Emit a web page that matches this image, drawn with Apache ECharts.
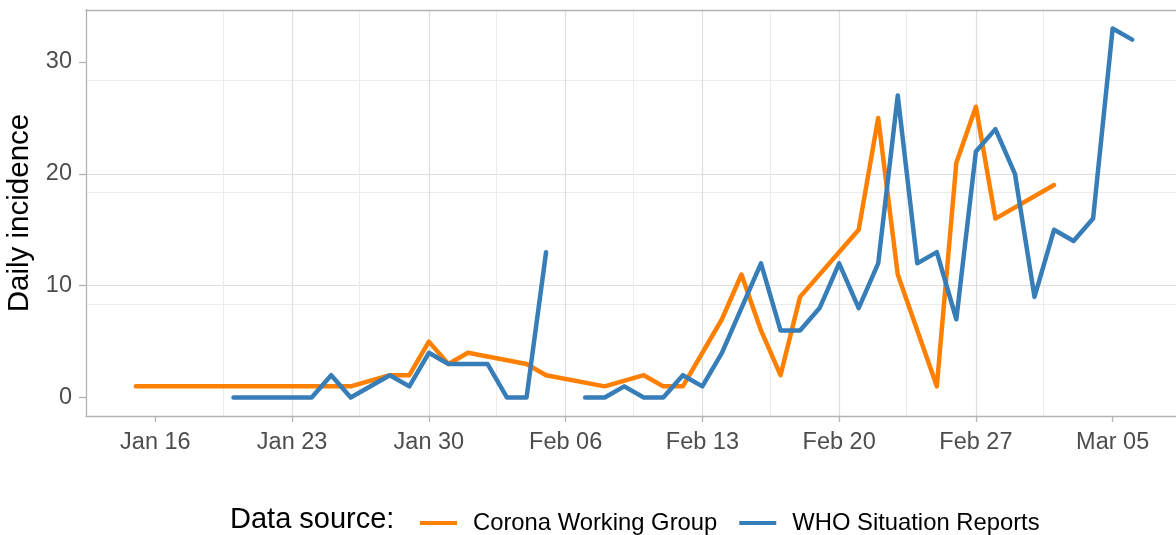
<!DOCTYPE html>
<html>
<head>
<meta charset="utf-8">
<script src="https://cdn.jsdelivr.net/npm/echarts@6/dist/echarts.min.js"></script>
<style>
  html, body { margin: 0; padding: 0; background: #fff; }
  #chart { width: 1176px; height: 535px; }
</style>
</head>
<body>
<div id="chart"></div>
<script>
// 数据：日期（2020年）和每日新增
var coronaDates = ['01-15', '01-26', '01-28', '01-29', '01-30', '01-31', '02-01', '02-04', '02-05',
  '02-08', '02-10', '02-11', '02-12', '02-14', '02-15', '02-16', '02-17', '02-18', '02-21',
  '02-22', '02-23', '02-25', '02-26', '02-27', '02-28', '03-02'];
var coronaValues = [1, 1, 2, 2, 5, 3, 4, 3, 2,
  1, 2, 1, 1, 7, 11, 6, 2, 9, 15,
  25, 11, 1, 21, 26, 16, 19];

var whoDates = ['01-20', '01-21', '01-22', '01-23', '01-24', '01-25', '01-26', '01-28', '01-29',
  '01-30', '01-31', '02-01', '02-02', '02-03', '02-04', '02-05', '02-06', '02-07', '02-08',
  '02-09', '02-10', '02-11', '02-12', '02-13', '02-14', '02-16', '02-17', '02-18', '02-19',
  '02-20', '02-21', '02-22', '02-23', '02-24', '02-25', '02-26', '02-27', '02-28', '02-29',
  '03-01', '03-02', '03-03', '03-04', '03-05', '03-06'];
var whoValues = [0, 0, 0, 0, 0, 2, 0, 2, 1,
  4, 3, 3, 3, 0, 0, 13, null, 0, 0,
  1, 0, 0, 2, 1, 4, 12, 6, 6, 8,
  12, 8, 12, 27, 12, 13, 7, 22, 24, 20,
  9, 15, 14, 16, 33, 32];

var xTickDates = ['01-16', '01-23', '01-30', '02-06', '02-13', '02-20', '02-27', '03-05'];
var xTickLabels = ['Jan 16', 'Jan 23', 'Jan 30', 'Feb 06', 'Feb 13', 'Feb 20', 'Feb 27', 'Mar 05'];
var yTicks = [0, 10, 20, 30];

// 以 1月16日 为第 0 天
var DAY = 86400000;
var base = Date.UTC(2020, 0, 16);
function dayNo(s) {
  var p = s.split('-');
  return Math.round((Date.UTC(2020, +p[0] - 1, +p[1]) - base) / DAY);
}
function pairs(dates, values) {
  return dates.map(function (d, i) { return [dayNo(d), values[i] === null ? '-' : values[i]]; });
}
var xTicks = xTickDates.map(dayNo);

var font = 'Liberation Sans, Arial, sans-serif';
var xMin = -3.55, xMax = 52.55, yMin = -1.65, yMax = 34.65;
var border = '#b3b3b3';

var chart = echarts.init(document.getElementById('chart'));
chart.setOption({
  animation: false,
  textStyle: { fontFamily: font },
  grid: { left: 86, top: 10, width: 1096, height: 406, show: false, containLabel: false, outerBoundsMode: 'none' },
  graphic: [{
    type: 'text', left: 230, top: 505,
    style: { text: 'Data source:', fontSize: 29, fill: '#000', fontFamily: font }
  }],
  legend: {
    left: 415, top: 506,
    icon: 'rect', itemWidth: 37, itemHeight: 4, itemGap: 22,
    textStyle: { fontSize: 23.8, color: '#000', fontFamily: font, padding: [0, 0, 0, 11] },
    data: ['Corona Working Group', 'WHO Situation Reports']
  },
  xAxis: [{
    type: 'value', min: xMin, max: xMax, interval: 7, z: 3,
    axisLine: { show: true, onZero: false, lineStyle: { color: border, width: 1.3 } },
    axisTick: { show: true, length: 6, customValues: xTicks, lineStyle: { color: border, width: 1.3 } },
    axisLabel: {
      customValues: xTicks, margin: 15, fontSize: 23.5, color: '#4d4d4d', fontFamily: font,
      formatter: function (v) { var i = xTicks.indexOf(Math.round(v)); return i >= 0 ? xTickLabels[i] : ''; }
    },
    splitLine: { show: true, showMinLine: false, showMaxLine: false, lineStyle: { color: '#dedede', width: 1.2 } }
  }, {
    // 次网格线（偏移 3.5 天）
    type: 'value', position: 'top', min: xMin - 3.45, max: xMax - 3.45, interval: 7, z: 3,
    axisLine: { show: true, onZero: false, lineStyle: { color: border, width: 1.3 } },
    axisTick: { show: false }, axisLabel: { show: false },
    splitLine: { show: true, showMinLine: false, showMaxLine: false, lineStyle: { color: '#ececec', width: 1 } }
  }],
  yAxis: [{
    type: 'value', min: yMin, max: yMax, interval: 10, z: 3,
    name: 'Daily incidence', nameLocation: 'middle', nameGap: 45,
    nameTextStyle: { fontSize: 29.5, color: '#000', fontFamily: font },
    axisLine: { show: true, onZero: false, lineStyle: { color: border, width: 1.3 } },
    axisTick: { show: true, length: 7, customValues: yTicks, lineStyle: { color: border, width: 1.3 } },
    axisLabel: { customValues: yTicks, margin: 14, fontSize: 23.5, color: '#4d4d4d', fontFamily: font },
    splitLine: { show: true, showMinLine: false, showMaxLine: false, lineStyle: { color: '#dedede', width: 1.2 } }
  }, {
    type: 'value', min: yMin - 5, max: yMax - 5, interval: 10,
    axisLine: { show: false, onZero: false }, axisTick: { show: false }, axisLabel: { show: false },
    splitLine: { show: true, showMinLine: false, showMaxLine: false, lineStyle: { color: '#ececec', width: 1 } }
  }],
  series: [{
    name: 'Corona Working Group', type: 'line', xAxisIndex: 0, yAxisIndex: 0,
    data: pairs(coronaDates, coronaValues),
    showSymbol: false, color: '#ff7f00',
    lineStyle: { width: 4.5, join: 'round', cap: 'round' }
  }, {
    name: 'WHO Situation Reports', type: 'line', xAxisIndex: 0, yAxisIndex: 0,
    data: pairs(whoDates, whoValues),
    showSymbol: false, connectNulls: false, color: '#377eb8',
    lineStyle: { width: 4.5, join: 'round', cap: 'round' }
  }]
});
</script>
</body>
</html>
